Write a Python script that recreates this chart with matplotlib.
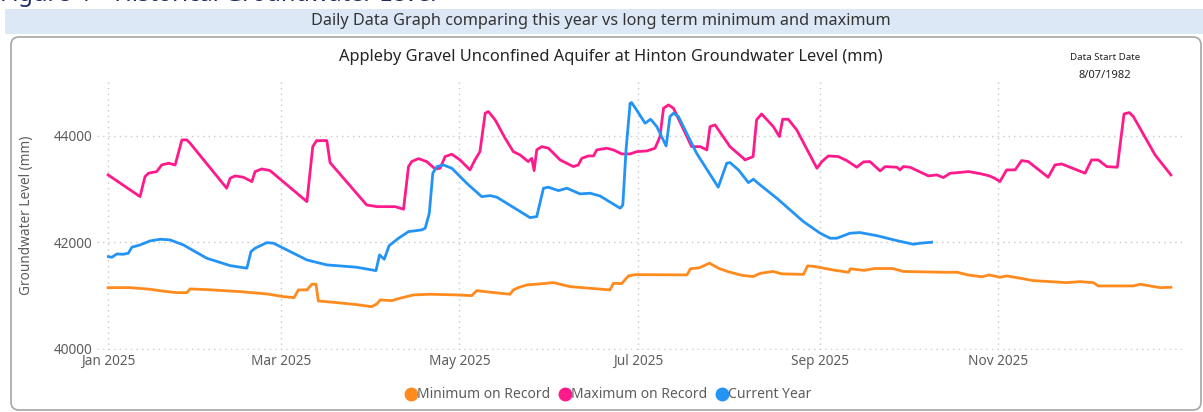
import numpy as np
import pandas as pd
import matplotlib
matplotlib.use("Agg")
import matplotlib.pyplot as plt
import matplotlib.dates as mdates
from matplotlib.patches import FancyBboxPatch, Rectangle
from matplotlib.lines import Line2D
from matplotlib.transforms import IdentityTransform

plt.rcParams['font.family'] = ['Noto Sans', 'DejaVu Sans']

start = pd.Timestamp("2025-01-01")
tick_dates = ["2025-01-01", "2025-03-01", "2025-05-01", "2025-07-01", "2025-09-01", "2025-11-01"]
y_ticks = [40000, 42000, 44000]

# days after 1 Jan 2025 / level in mm
min_days = [0, 7.5, 14.3, 18.9, 23.5, 26.9, 28, 33.7, 45.1, 54.2, 59.9, 63.5, 65, 67.9,
            69.6, 71, 71.8, 78.1, 84.9, 90, 91.8, 92.9, 96.9, 99.7, 104.3, 110, 119.1,
            124.2, 125.9, 130.5, 137.3, 138.4, 140.1, 143, 147.5, 152.1, 157.8, 171.4,
            172.6, 175.4, 177.7, 180, 197.7, 198.9, 202, 205.4, 208.7, 211.8, 216.7,
            220.3, 222.8, 227.1, 230.1, 237.5, 238.9, 241.1, 248.4, 252.9, 253.5, 258.2,
            261.8, 267.9, 271.6, 285, 290, 293.6, 298.5, 300.9, 304.6, 306.9, 311.5,
            316, 321.7, 327.4, 332, 336.5, 338.2, 350.2, 352.5, 359.3, 363]
min_vals = [41151, 41151, 41121, 41084, 41057, 41057, 41127, 41114, 41076, 41033, 40982,
            40963, 41108, 41108, 41215, 41215, 40901, 40870, 40832, 40794, 40845, 40920,
            40907, 40952, 41014, 41027, 41014, 41001, 41095, 41065, 41027, 41108, 41151,
            41202, 41221, 41245, 41170, 41108, 41234, 41226, 41371, 41395, 41390, 41505,
            41525, 41610, 41510, 41450, 41380, 41360, 41420, 41455, 41410, 41400, 41560,
            41550, 41475, 41440, 41505, 41475, 41510, 41510, 41455, 41440, 41440, 41390,
            41355, 41390, 41346, 41371, 41328, 41283, 41264, 41245, 41264, 41245, 41183,
            41183, 41215, 41151, 41158]

max_days = [0, 10.9, 12.6, 13.8, 16.6, 18.3, 20.6, 22.9, 25.2, 26.9, 28, 40.5, 41.7, 43.4,
            46.2, 49.1, 50.2, 52.5, 55.3, 67.9, 69.9, 71.2, 74.7, 75.8, 88.3, 91.8, 98,
            100.9, 102.6, 103.7, 106, 108.8, 111.7, 113.4, 115.1, 117.4, 120.2, 123.6,
            125.3, 127, 128.8, 129.9, 132.2, 135.6, 138.4, 140.7, 143.5, 144.7, 145.5,
            146.4, 148.1, 150.4, 154.4, 158.9, 160.6, 161.8, 164, 165.8, 166.9, 170.3,
            172.6, 175.4, 178.3, 180.6, 184, 186.8, 188.5, 189.7, 191.4, 193.1, 199.3,
            202.2, 204.5, 205.6, 207.3, 212.4, 217, 217.5, 220.3, 221.5, 223.2, 227.2,
            229.3, 230.4, 232.3, 235.2, 242.1, 243.8, 246, 249.4, 252.3, 255.7, 258,
            260.2, 263.7, 265.4, 269.4, 270.5, 271.6, 273.9, 280.2, 283, 285.3, 287.6,
            290, 294, 298, 301, 303, 304.6, 306.9, 309.8, 312, 314.3, 321.1, 323.4,
            325.7, 333.7, 335.9, 338.2, 341.1, 344.7, 347, 348.8, 350.2, 357.6, 363]
max_vals = [43268, 42860, 43236, 43300, 43330, 43455, 43487, 43455, 43925, 43925, 43863,
            43018, 43206, 43249, 43224, 43142, 43330, 43380, 43349, 42766, 43799, 43912,
            43912, 43499, 42704, 42672, 42672, 42624, 43424, 43518, 43574, 43518, 43380,
            43393, 43612, 43656, 43549, 43362, 43549, 43705, 44427, 44457, 44301, 43957,
            43705, 43643, 43518, 43580, 43349, 43737, 43799, 43769, 43549, 43424, 43455,
            43580, 43624, 43624, 43737, 43769, 43737, 43662, 43662, 43705, 43718, 43769,
            43987, 44520, 44582, 44520, 43799, 43799, 43737, 44175, 44207, 43799, 43580,
            43549, 43612, 44301, 44413, 44175, 43987, 44313, 44313, 44113, 43393, 43518,
            43624, 43612, 43537, 43412, 43512, 43518, 43343, 43424, 43412, 43362, 43424,
            43412, 43249, 43268, 43218, 43300, 43310, 43330, 43290, 43250, 43200, 43142,
            43362, 43362, 43537, 43518, 43224, 43455, 43474, 43300, 43549, 43549, 43424,
            43412, 44413, 44438, 44363, 43643, 43268]

cur_days = [0.1, 1.3, 3, 5.2, 6.9, 8.1, 10.9, 14.3, 17.8, 21.2, 25.7, 33.7, 41.7, 47.4,
            48.8, 50.2, 54.2, 56.5, 62.2, 67.9, 74.7, 84.9, 91.5, 92.7, 94.3, 96, 99.2,
            102.6, 107.1, 108.3, 109.7, 110.9, 112.3, 114.5, 117.4, 122.5, 127.6, 130.5,
            132.8, 144.1, 146.4, 148.7, 150.4, 153.8, 156.7, 161.2, 164.6, 168, 174.9,
            175.8, 176.9, 178.3, 178.8, 180.5, 183.4, 185.3, 187.4, 190.6, 191.9, 193.1,
            194.8, 201, 208.4, 211.3, 212.4, 215.3, 218.7, 220.4, 222.7, 228.4, 237.5,
            243.2, 246.6, 248.9, 253.4, 256.8, 262.5, 269.4, 275, 277.3, 281.3]
cur_vals = [41733, 41722, 41784, 41778, 41797, 41910, 41953, 42028, 42060, 42047, 41953,
            41703, 41564, 41516, 41828, 41891, 41996, 41985, 41828, 41671, 41578, 41534,
            41470, 41765, 41684, 41940, 42079, 42203, 42235, 42267, 42548, 43300, 43424,
            43455, 43393, 43111, 42860, 42879, 42849, 42466, 42485, 43018, 43037, 42973,
            43018, 42911, 42924, 42873, 42642, 42704, 43737, 44614, 44626, 44488, 44238,
            44313, 44175, 43812, 44363, 44426, 44363, 43675, 43037, 43487, 43499, 43362,
            43123, 43187, 43080, 42830, 42391, 42173, 42079, 42079, 42173, 42185, 42128,
            42034, 41966, 41985, 42004]

series = [("Minimum on Record", min_days, min_vals, "#FF8A1E"),
          ("Maximum on Record", max_days, max_vals, "#FF1A8C"),
          ("Current Year", cur_days, cur_vals, "#2394F5")]

W, H = 1203, 412
fig = plt.figure(figsize=(W / 100, H / 100), dpi=100)
px = IdentityTransform()

# heading of the page, mostly cut off at the top edge
fig.text(0.0, 1 - 1 / H, "Figure 4 \u2013 Historical Groundwater Level", fontsize=17,
         fontweight="bold", color="#1d2b63", va="baseline", ha="left")

# header band
fig.patches.append(Rectangle((5, H - 34), W, 25, transform=px, facecolor="#dde8f7",
                             edgecolor="none", zorder=0))
fig.text(601 / W, 1 - 21 / H, "Daily Data Graph comparing this year vs long term minimum and maximum",
         fontsize=11.7, color="#333333", ha="center", va="center")

# panel border
fig.patches.append(FancyBboxPatch((11, 2), W - 13, H - 39, boxstyle="round,pad=0,rounding_size=8",
                                  transform=px, facecolor="white", edgecolor="#a6a6a6",
                                  linewidth=1.2, zorder=1))

fig.text(611 / W, 1 - 57 / H, "Appleby Gravel Unconfined Aquifer at Hinton Groundwater Level (mm)",
         fontsize=11.8, color="#252423", ha="center", va="center")
fig.text(1105 / W, 1 - 58 / H, "Data Start Date", fontsize=7, color="#252423",
         ha="center", va="center")
fig.text(1105 / W, 1 - 75 / H, "8/07/1982", fontsize=8, color="#252423",
         ha="center", va="center")

ax = fig.add_axes([96.7 / W, 62 / H, (1182 - 96.7) / W, (350 - 80) / H])
ax.set_zorder(2)
ax.patch.set_alpha(0)

for label, d, v, c in series:
    x = start + pd.to_timedelta(np.array(d), unit="D")
    ax.plot(x, v, color=c, lw=2, label=label, solid_joinstyle="round")

ax.set_xlim(start - pd.Timedelta(days=3.9), start + pd.Timedelta(days=366.8))
ax.set_ylim(39980, 45050)
ax.set_yticks(y_ticks)
ax.set_xticks(pd.to_datetime(tick_dates))
ax.xaxis.set_major_formatter(mdates.DateFormatter("%b %Y"))
ax.grid(True, linestyle=(0, (1, 3)), color="#c8c8c8", lw=1)
ax.tick_params(length=0, labelsize=9.8, labelcolor="#605E5C", pad=3)
for s in ax.spines.values():
    s.set_visible(False)
ax.set_ylabel("Groundwater Level (mm)", fontsize=9.8, color="#605E5C", labelpad=14)

handles = [Line2D([], [], marker="o", ls="none", color=c, markersize=9) for _, _, _, c in series]
fig.legend(handles, [s[0] for s in series], loc="center", bbox_to_anchor=(609 / W, 1 - 395 / H),
           ncol=3, frameon=False, fontsize=10, handlelength=0.7, handletextpad=0.1,
           columnspacing=0.7, labelcolor="#605E5C")

fig.savefig("out.png", dpi=100, facecolor="white")
